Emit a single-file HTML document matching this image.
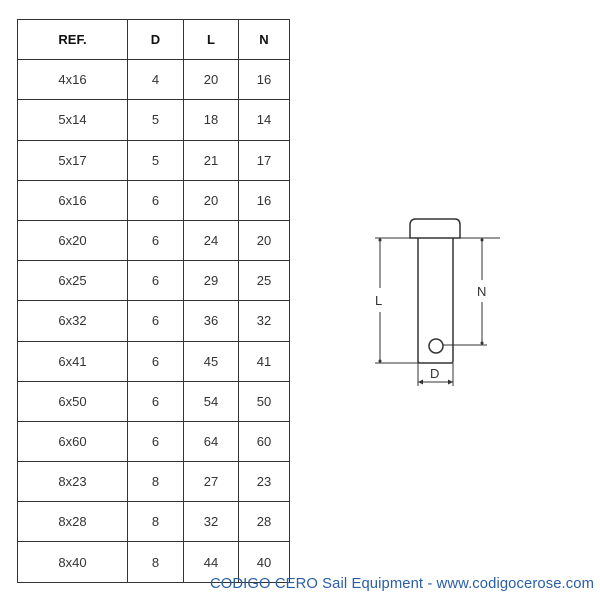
<!DOCTYPE html>
<html><head><style>
body{margin:0;width:600px;height:600px;background:#fff;position:relative;overflow:hidden;font-family:"Liberation Sans",sans-serif}
table{position:absolute;left:17px;top:19px;border-collapse:collapse}
td{border:1.5px solid #333;height:39.2px;padding:0;text-align:center;font-size:13px;color:#333}
th{border:1.5px solid #333;height:39.2px;padding:0;font-size:13px;color:#111;font-weight:bold}
.c1{width:109px}.c2{width:55px}.c3{width:54px}.c4{width:50px}
.foot{position:absolute;left:210px;top:576px;font-size:14.8px;color:#2a5ea6;white-space:nowrap;letter-spacing:0.1px}
</style></head><body>
<table>
<tr><th class="c1">REF.</th><th class="c2">D</th><th class="c3">L</th><th class="c4">N</th></tr>
<tr><td>4x16</td><td>4</td><td>20</td><td>16</td></tr>
<tr><td>5x14</td><td>5</td><td>18</td><td>14</td></tr>
<tr><td>5x17</td><td>5</td><td>21</td><td>17</td></tr>
<tr><td>6x16</td><td>6</td><td>20</td><td>16</td></tr>
<tr><td>6x20</td><td>6</td><td>24</td><td>20</td></tr>
<tr><td>6x25</td><td>6</td><td>29</td><td>25</td></tr>
<tr><td>6x32</td><td>6</td><td>36</td><td>32</td></tr>
<tr><td>6x41</td><td>6</td><td>45</td><td>41</td></tr>
<tr><td>6x50</td><td>6</td><td>54</td><td>50</td></tr>
<tr><td>6x60</td><td>6</td><td>64</td><td>60</td></tr>
<tr><td>8x23</td><td>8</td><td>27</td><td>23</td></tr>
<tr><td>8x28</td><td>8</td><td>32</td><td>28</td></tr>
<tr><td>8x40</td><td>8</td><td>44</td><td>40</td></tr>
</table>
<svg width="600" height="600" style="position:absolute;left:0;top:0" font-family="Liberation Sans" fill="none" stroke="#333">
<path d="M410 238 V225 Q410 219 416 219 H455 Q460 219 460 225 V238 Z" stroke-width="1.5"/>
<path d="M418 238 V361 Q418 363 420 363 H451 Q453 363 453 361 V238" stroke-width="1.5"/>
<circle cx="436" cy="346" r="7" stroke-width="1.5"/>
<g stroke-width="1">
<line x1="375" y1="238" x2="500" y2="238"/>
<line x1="375" y1="363" x2="418" y2="363"/>
<line x1="443" y1="345" x2="487" y2="345"/>
<line x1="380" y1="238" x2="380" y2="288"/><line x1="380" y1="312" x2="380" y2="363"/>
<line x1="482" y1="238" x2="482" y2="280"/><line x1="482" y1="302" x2="482" y2="345"/>
<line x1="418" y1="363" x2="418" y2="386"/><line x1="453" y1="363" x2="453" y2="386"/>
<line x1="418" y1="382" x2="453" y2="382"/>
</g>
<g fill="#333" stroke="none">
<circle cx="380" cy="240" r="1.5"/><circle cx="380" cy="361" r="1.5"/>
<circle cx="482" cy="240" r="1.5"/><circle cx="482" cy="343" r="1.5"/>
<path d="M418 382 l5 -2.5 v5 z M453 382 l-5 -2.5 v5 z"/>
<text x="375" y="305" font-size="13">L</text>
<text x="477" y="296" font-size="13">N</text>
<text x="430" y="378" font-size="13">D</text>
</g>
</svg>
<div class="foot">CODIGO CERO Sail Equipment - www.codigocerose.com</div>
</body></html>
